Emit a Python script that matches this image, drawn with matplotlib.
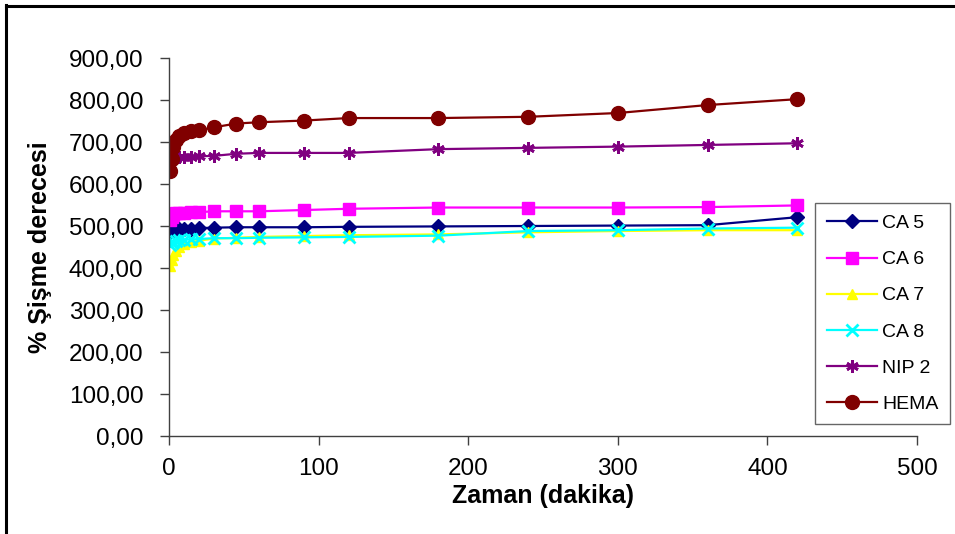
import matplotlib
matplotlib.use("Agg")
import matplotlib.pyplot as plt
from matplotlib.lines import Line2D
from matplotlib.ticker import FuncFormatter

plt.rcParams['font.family'] = ['Liberation Sans', 'DejaVu Sans']

# ── Veri ──────────────────────────────────────────────────────────────────────
zaman = [1, 2, 3, 5, 7, 10, 15, 20, 30, 45, 60, 90, 120, 180, 240, 300, 360, 420]

ca5  = [485, 488, 490, 492, 493, 494, 494, 495, 496, 497, 497, 497, 498, 499, 500, 501, 502, 521]
ca6  = [515, 522, 527, 530, 531, 532, 533, 533, 535, 535, 535, 538, 541, 544, 544, 544, 545, 549]
ca7  = [405, 418, 430, 440, 450, 456, 462, 465, 470, 472, 474, 476, 478, 480, 485, 488, 490, 490]
ca8  = [455, 460, 463, 465, 466, 467, 468, 469, 471, 471, 472, 473, 474, 477, 488, 490, 494, 496]
nip2 = [655, 660, 662, 663, 664, 665, 665, 666, 667, 672, 674, 674, 674, 683, 686, 689, 693, 697]
hema = [632, 660, 687, 705, 715, 722, 727, 728, 735, 744, 747, 751, 757, 757, 760, 769, 788, 802]

seriler = ['CA 5', 'CA 6', 'CA 7', 'CA 8', 'NIP 2', 'HEMA']
degerler = [ca5, ca6, ca7, ca8, nip2, hema]

# ── Stil ──────────────────────────────────────────────────────────────────────
renkler = ['#000080', '#FF00FF', '#FFFF00', '#00FFFF', '#800080', '#800000']
isaretler = ['D', 's', '^', 'x', (6, 2, 0), 'o']
boyutlar = [7, 8.5, 7.5, 8, 9, 10]

fig = plt.figure(figsize=(9.55, 5.34), dpi=100)
ax = fig.add_axes([169/955, 98/534, (917-169)/955, (436-58)/534])

for ad, y, renk, mk, ms in zip(seriler, degerler, renkler, isaretler, boyutlar):
    ax.plot(zaman, y, color=renk, linewidth=1.6, marker=mk, markersize=ms,
            markerfacecolor=renk, markeredgecolor=renk,
            markeredgewidth=2 if mk in ('x', (6, 2, 0)) else 1, label=ad)

ax.set_xlim(0, 500)
ax.set_ylim(0, 900)
ax.set_xticks(range(0, 501, 100))
ax.set_yticks(range(0, 901, 100))
ax.yaxis.set_major_formatter(FuncFormatter(lambda v, p: f'{v:.2f}'.replace('.', ',')))

for s in ('top', 'right'):
    ax.spines[s].set_visible(False)
for s in ('left', 'bottom'):
    ax.spines[s].set_color('#404040')
    ax.spines[s].set_linewidth(1.0)

ax.tick_params(axis='both', direction='out', length=6.5, width=1.0,
               color='#404040', labelsize=17.5)
ax.tick_params(axis='y', pad=12)
ax.tick_params(axis='x', pad=9)

ax.set_xlabel('Zaman (dakika)', fontsize=18, fontweight='bold', labelpad=3)
ax.set_ylabel('% Şişme derecesi', fontsize=18, fontweight='bold', labelpad=12)

leg = ax.legend(loc='upper left', bbox_to_anchor=(815/955, 1 - 203/534),
                bbox_transform=fig.transFigure, fontsize=14, frameon=True,
                fancybox=False, edgecolor='#404040', handlelength=2.6,
                handletextpad=0.25, labelspacing=0.95, borderpad=0.6,
                borderaxespad=0)
leg.get_frame().set_linewidth(1.0)

# dış çerçeve (üst ve sol)
fig.add_artist(Line2D([6/955, 6/955], [0, 1 - 5/534], transform=fig.transFigure,
                      color='black', linewidth=2.2))
fig.add_artist(Line2D([6/955, 1], [1 - 6/534, 1 - 6/534], transform=fig.transFigure,
                      color='black', linewidth=2.2))

fig.savefig('out.png', dpi=100)
